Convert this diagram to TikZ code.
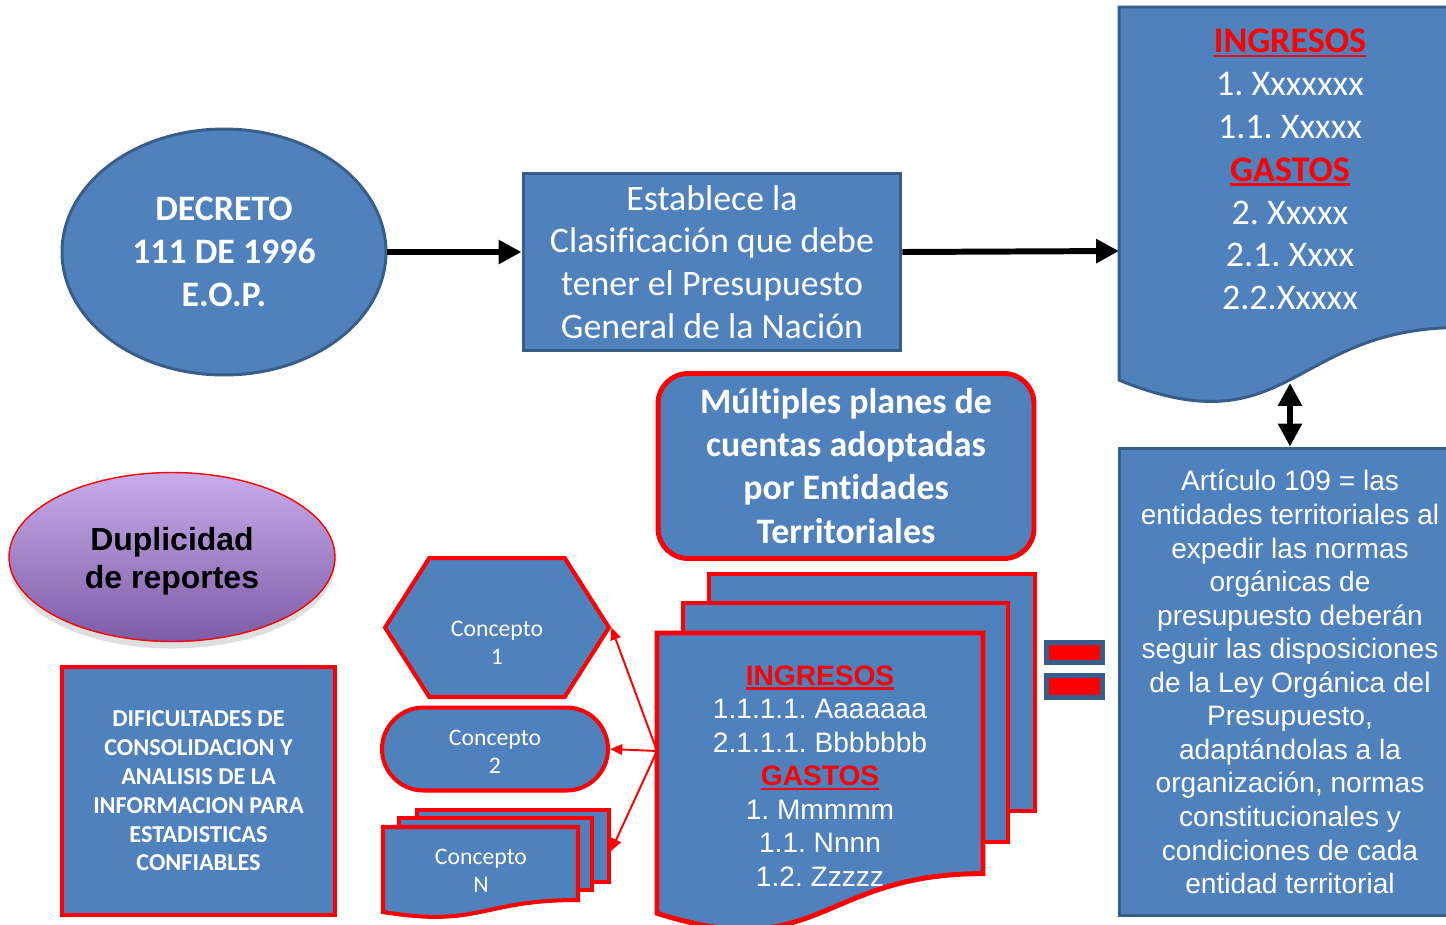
\documentclass[tikz,border=0pt]{standalone}
\usepackage{fontspec}
\setmainfont{Carlito}[Ligatures=NoCommon]
\newfontfamily\arialfont{Liberation Sans}
\usetikzlibrary{arrows.meta,shapes.geometric,shapes.symbols,shadows}
\frenchspacing

\definecolor{boxblue}{HTML}{4F81BD}
\definecolor{edgeblue}{HTML}{385D8A}
\definecolor{lilac}{HTML}{C8ACEC}
\definecolor{plum}{HTML}{7D5CA6}

% red underlined heading
\newcommand{\redhead}[1]{\setbox0\hbox{#1}\rlap{\color{red}\rule[-2.6pt]{\wd0}{1.4pt}}\box0}

% wavy document sheet: style, x, y, width, height (px)
\newcommand{\docsheet}[5]{%
  \draw[#1] (#2,#3) -- ({#2+#4},#3) -- ({#2+#4},{#3+0.802*#5})
    .. controls ({#2+0.5*#4},{#3+0.802*#5}) and ({#2+0.5*#4},{#3+1.1075*#5})
    .. (#2,{#3+0.934*#5}) -- cycle;}

\tikzset{
  blueshape/.style={fill=boxblue,draw=edgeblue,line width=1.7pt,text=white,align=center},
  redshape/.style={fill=boxblue,draw=red,line width=2.8pt,text=white,align=center},
  thinred/.style={fill=boxblue,draw=red,line width=2.3pt,text=white,align=center},
  blackarrow/.style={black,line width=3.4pt,-{Triangle[length=13pt,width=13pt]}},
  redarrow/.style={red,line width=1.1pt,-{Triangle[length=7pt,width=6pt]}},
  eqbar/.style={fill=red,draw=edgeblue,line width=2.8pt},
  bigtext/.style={font=\fontsize{20.4}{24.4}\selectfont},
  listtext/.style={text=white,align=center,font=\fontsize{20.5}{24.4}\selectfont},
  arialtext/.style={font=\arialfont\fontsize{16}{19.1}\selectfont},
  smalltext/.style={font=\fontsize{13.5}{15.9}\selectfont}
}

\begin{document}
\begin{tikzpicture}[x=0.02cm,y=-0.02cm]

      \useasboundingbox (0,0) rectangle (1446,924);

      % decree and classification
      \node[blueshape,ellipse,minimum width=6.48cm,minimum height=4.92cm,
        font=\bfseries\fontsize{20.4}{24.4}\selectfont] (decreto) at (224,252)
        {DECRETO\\111 DE 1996\\E.O.P.};
      \node[blueshape,bigtext,minimum width=7.56cm,minimum height=3.56cm] (estab) at (712,262)
        {Establece la\\Clasificación que debe\\tener el Presupuesto\\General de la Nación};

      % budget document
      \docsheet{blueshape}{1119}{7}{342}{399.5}
      \node[listtext] (plan) at (1290,169.5)
        {\textcolor{red}{\bfseries\redhead{INGRESOS}}\\1. Xxxxxxx\\1.1. Xxxxx\\
         \textcolor{red}{\bfseries\redhead{GASTOS}}\\2. Xxxxx\\2.1. Xxxx\\2.2.Xxxxx};
      \coordinate (docin) at (1119,251);
      \coordinate (docwave) at (1290,383);

      \draw[blackarrow] (decreto.east) -- (decreto.east -| estab.west);
      \draw[blackarrow] (estab.east |- decreto.east) -- (docin);

      % article 109
      \node[blueshape,arialtext,minimum width=6.84cm,minimum height=9.36cm] (art) at (1290,682)
        {Artículo 109 = las\\entidades territoriales al\\expedir las normas\\orgánicas de\\
         presupuesto deberán\\seguir las disposiciones\\de la Ley Orgánica del\\Presupuesto,\\
         adaptándolas a la\\organización, normas\\constitucionales y\\condiciones de cada\\
         entidad territorial};
      \draw[blackarrow,{Triangle[length=13pt,width=13pt]}-{Triangle[length=13pt,width=13pt]}]
        (docwave) -- (art.north);

      % territorial plans
      \node[redshape,rounded corners=0.6cm,minimum width=7.52cm,minimum height=3.7cm,
        font=\bfseries\fontsize{20.4}{24.5}\selectfont] (planes) at (846,466)
        {Múltiples planes de\\cuentas adoptadas\\por Entidades\\Territoriales};

      \draw[redshape] (709,574) rectangle (1035,811);
      \draw[redshape] (683,603) rectangle (1008,842);
      \docsheet{redshape}{657}{633}{326}{300}
      \node[text=white,align=center,arialtext] (cuentas) at (820,776)
        {\textcolor{red}{\bfseries\redhead{INGRESOS}}\\1.1.1.1. Aaaaaaa\\2.1.1.1. Bbbbbbb\\
         \textcolor{red}{\bfseries\redhead{GASTOS}}\\1. Mmmmm\\1.1. Nnnn\\1.2. Zzzzz};
      \coordinate (cuentasin) at (657,751);

      % equal sign
      \draw[eqbar] (1046.5,642.5) rectangle (1102.5,662.5);
      \draw[eqbar] (1046.5,675.5) rectangle (1102.5,697.5);

      % concepts
      \node[thinred,signal,signal to=east and west,signal pointer angle=115,
        minimum width=4.48cm,minimum height=2.78cm] (conc1) at (497,627.5) {};
      \node[text=white,align=center,smalltext] (conc1txt) at (497,643) {Concepto\\1};
      \node[thinred,smalltext,rounded corners=0.83cm,minimum width=4.52cm,
        minimum height=1.66cm] (conc2) at (495,749) {};
      \node[text=white,align=center,smalltext] (conc2txt) at (495,751.5) {Concepto\\2};

      \draw[thinred] (417,810) rectangle (609,882);
      \draw[thinred] (399,818) rectangle (592,890);
      \docsheet{thinred}{383}{827}{195}{91}
      \node[text=white,align=center,smalltext] (concn) at (481,871) {Concepto\\N};
      \coordinate (concnin) at (611,851);

      \draw[redarrow] (cuentasin) -- (conc1.east);
      \draw[redarrow] (cuentasin) -- (conc2.east);
      \draw[redarrow] (cuentasin) -- (concnin);

      % duplicity
      \node[ellipse,draw=red,line width=0.8pt,top color=lilac,bottom color=plum,
        drop shadow={opacity=0.25,shadow xshift=0pt,shadow yshift=-4pt},
        minimum width=6.52cm,minimum height=3.38cm,align=center,
        font=\arialfont\bfseries\fontsize{18.2}{21.5}\selectfont] (dup) at (172,557)
        {};
      \node[align=center,font=\arialfont\bfseries\fontsize{18.2}{21.5}\selectfont] (duptxt)
        at (172,561) {Duplicidad\\de reportes};

      \node[redshape,minimum width=5.46cm,minimum height=4.96cm,
        font=\bfseries\fontsize{13.8}{16.4}\selectfont] (dific) at (198.5,791)
        {DIFICULTADES DE\\CONSOLIDACION Y\\ANALISIS DE LA\\INFORMACION PARA\\
         ESTADISTICAS\\CONFIABLES};

\end{tikzpicture}
\end{document}
